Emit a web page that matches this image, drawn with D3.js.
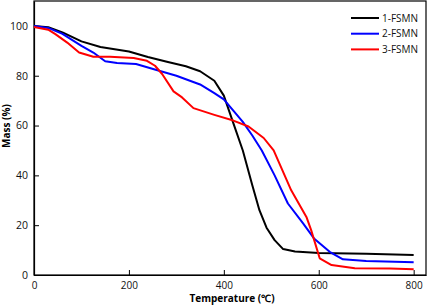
<!DOCTYPE html>
<html>
<head>
<meta charset="utf-8">
<script src="https://cdn.jsdelivr.net/npm/d3@7"></script>
<style>
  body { margin: 0; background: #fff; }
  svg { display: block; font-family: 'Open Sans', sans-serif; }
</style>
</head>
<body>
<div id="chart"></div>
<script>
// TGA curves: [temperature, mass %]
const fsmn1 = [
  [0, 100], [30, 99.5], [60, 97.4], [100, 93.8], [140, 91.5], [200, 89.7],
  [240, 87.5], [280, 85.6], [320, 83.8], [350, 81.8], [380, 78], [400, 72],
  [420, 61], [440, 50], [460, 36], [475, 26], [490, 19], [507, 14],
  [525, 10.4], [550, 9.4], [600, 8.8], [700, 8.5], [800, 8.0]
];
const fsmn2 = [
  [0, 100], [30, 99.2], [60, 96.8], [100, 92], [125, 89.3], [150, 85.8],
  [175, 85.1], [215, 84.7], [260, 82.2], [300, 80], [350, 76.5], [380, 73],
  [400, 70.5], [420, 66], [440, 61.5], [460, 56], [480, 50], [507, 40],
  [535, 28.7], [567, 20.7], [590, 14.7], [623, 9.3], [651, 6.3], [700, 5.6],
  [800, 5.1]
];
const fsmn3 = [
  [0, 99.6], [30, 98.5], [45, 96.7], [70, 93.3], [95, 89.3], [125, 87.6],
  [160, 87.6], [210, 87.1], [238, 86], [255, 84], [270, 80.7], [294, 73.7],
  [312, 71.3], [336, 67], [380, 64.3], [420, 62], [452, 59.6], [484, 55],
  [505, 50], [542, 34], [574, 23.3], [584, 18], [602, 6.7], [627, 4],
  [676, 2.7], [750, 2.6], [800, 2.3]
];
const seriesNames = ['1-FSMN', '2-FSMN', '3-FSMN'];
const seriesColors = ['#000000', '#0000ff', '#ff0000'];
const xTicks = [0, 200, 400, 600, 800];
const yTicks = [0, 20, 40, 60, 80, 100];

const W = 429, H = 305;
const margin = { top: 1, right: 3, bottom: 30, left: 34 };

const svg = d3.select('#chart').append('svg')
  .attr('width', W).attr('height', H);

const x = d3.scaleLinear().domain([0, 826]).range([margin.left, W - margin.right]);
const y = d3.scaleLinear().domain([0, 110]).range([H - margin.bottom, margin.top]);

// frame
svg.append('rect')
  .attr('x', x(0)).attr('y', y(110))
  .attr('width', x(826) - x(0)).attr('height', y(0) - y(110))
  .attr('fill', 'none').attr('stroke', '#000').attr('stroke-width', 1.2);

const xAxis = svg.append('g')
  .attr('transform', 'translate(0,' + y(0) + ')')
  .call(d3.axisBottom(x).tickValues(xTicks).tickSizeInner(-5).tickSizeOuter(0).tickPadding(7));
xAxis.select('.domain').attr('stroke-width', 1.2);
xAxis.selectAll('text').attr('font-size', 10).attr('fill', '#111')
  .attr('font-family', "'Open Sans', sans-serif");

const yAxis = svg.append('g')
  .attr('transform', 'translate(' + x(0) + ',0)')
  .call(d3.axisLeft(y).tickValues(yTicks).tickSizeInner(-5).tickSizeOuter(0).tickPadding(6));
yAxis.select('.domain').attr('stroke-width', 1.2);
yAxis.selectAll('text').attr('font-size', 10.5).attr('fill', '#111')
  .attr('font-family', "'Open Sans', sans-serif");

// axis titles
svg.append('text')
  .attr('x', 232).attr('y', 302)
  .attr('text-anchor', 'middle')
  .attr('font-size', 10).attr('font-weight', 'bold')
  .text('Temperature (℃)');

svg.append('text')
  .attr('transform', 'translate(10,126) rotate(-90)')
  .attr('text-anchor', 'middle')
  .attr('font-size', 10).attr('font-weight', 'bold')
  .text('Mass (%)');

// curves
const line = d3.line().x(d => x(d[0])).y(d => y(d[1]));
[fsmn1, fsmn2, fsmn3].forEach((data, i) => {
  svg.append('path')
    .datum(data)
    .attr('fill', 'none')
    .attr('stroke', seriesColors[i])
    .attr('stroke-width', 2)
    .attr('stroke-linejoin', 'round')
    .attr('d', line);
});

// legend
const legend = svg.append('g').attr('transform', 'translate(351,18)');
seriesNames.forEach((name, i) => {
  const g = legend.append('g').attr('transform', 'translate(0,' + i * 15.7 + ')');
  g.append('line')
    .attr('x1', 0).attr('x2', 28)
    .attr('stroke', seriesColors[i]).attr('stroke-width', 2);
  g.append('text')
    .attr('x', 31).attr('dy', '0.35em')
    .attr('font-size', 10).attr('fill', '#111')
    .text(name);
});
</script>
</body>
</html>
